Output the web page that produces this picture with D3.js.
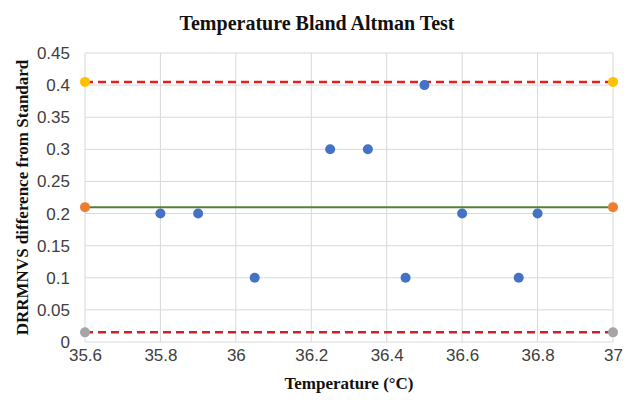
<!DOCTYPE html>
<html>
<head>
<meta charset="utf-8">
<script src="https://cdn.jsdelivr.net/npm/d3@7"></script>
<style>
  body { margin: 0; background: #fff; }
  svg { display: block; }
</style>
</head>
<body>
<div id="plotSect"></div>
<script>
// data
let tempValues = [35.8, 35.9, 36.05, 36.25, 36.35, 36.45, 36.5, 36.6, 36.75, 36.8];
let diffValues = [0.2, 0.2, 0.1, 0.3, 0.3, 0.1, 0.4, 0.2, 0.1, 0.2];
let lineX = [35.6, 37];
let meanDiff = 0.21;
let upperLimit = 0.405;
let lowerLimit = 0.015;
let xTicks = [35.6, 35.8, 36, 36.2, 36.4, 36.6, 36.8, 37];
let yTicks = [0, 0.05, 0.1, 0.15, 0.2, 0.25, 0.3, 0.35, 0.4, 0.45];

let SVGwidth = 630,
    SVGheight = 400,
    margin = {top: 53, right: 17, bottom: 58, left: 85},
    width = SVGwidth - margin.left - margin.right,
    height = SVGheight - margin.top - margin.bottom;

let tickFont = "'Liberation Sans', Arial, sans-serif";
let titleFont = "'Liberation Serif', 'Times New Roman', serif";

let svg = d3.select("#plotSect").append("svg")
    .attr("width", SVGwidth)
    .attr("height", SVGheight);

let g = svg.append("g")
    .attr("transform", "translate(" + margin.left + "," + margin.top + ")");

let xScale = d3.scaleLinear().domain([35.6, 37]).range([0, width]);
let yScale = d3.scaleLinear().domain([0, 0.45]).range([height, 0]);

// gridlines
g.selectAll(".hgrid").data(yTicks).enter().append("line")
    .attr("x1", 0).attr("x2", width)
    .attr("y1", d => yScale(d)).attr("y2", d => yScale(d))
    .style("stroke", "#d9d9d9").style("stroke-width", 1);

g.selectAll(".vgrid").data(xTicks).enter().append("line")
    .attr("y1", 0).attr("y2", height)
    .attr("x1", d => xScale(d)).attr("x2", d => xScale(d))
    .style("stroke", "#d9d9d9").style("stroke-width", 1);

// axes (labels only)
let xAxis = d3.axisBottom(xScale).tickValues(xTicks).tickSize(0).tickPadding(7)
    .tickFormat(d => String(+d.toFixed(1)));
let yAxis = d3.axisLeft(yScale).tickValues(yTicks).tickSize(0).tickPadding(15)
    .tickFormat(d => String(+d.toFixed(2)));

g.append("g").attr("transform", "translate(0," + height + ")").call(xAxis)
    .call(a => a.select(".domain").remove())
    .selectAll("text")
    .style("font-family", tickFont)
    .style("font-size", "17px").style("fill", "#404040");

g.append("g").call(yAxis)
    .call(a => a.select(".domain").remove())
    .selectAll("text")
    .style("font-family", tickFont)
    .style("font-size", "17px").style("fill", "#404040");

// limit and mean lines
let hLine = d3.line().x(d => xScale(d.x)).y(d => yScale(d.y));
let levels = [
    {v: upperLimit, stroke: "#e3211c", dash: "8,5", marker: "#ffc000", w: 2.5},
    {v: meanDiff, stroke: "#548235", dash: null, marker: "#ed7d31", w: 2},
    {v: lowerLimit, stroke: "#c8232b", dash: "8,5", marker: "#a5a5a5", w: 2.5}
];

levels.forEach(function(l) {
    let pts = lineX.map(x => ({x: x, y: l.v}));
    g.append("path")
        .datum(pts)
        .attr("d", hLine)
        .style("fill", "none")
        .style("stroke", l.stroke)
        .style("stroke-width", l.w)
        .style("stroke-dasharray", l.dash);
    g.selectAll(null).data(pts).enter().append("circle")
        .attr("r", 5)
        .attr("cx", d => xScale(d.x))
        .attr("cy", d => yScale(d.y))
        .style("fill", l.marker);
});

// scatter points
g.selectAll(".point").data(tempValues).enter().append("circle")
    .attr("class", "point")
    .attr("r", 5)
    .attr("cx", d => xScale(d))
    .attr("cy", (d, i) => yScale(diffValues[i]))
    .style("fill", "#4472c4");

// titles
svg.append("text")
    .attr("x", 317).attr("y", 30)
    .style("text-anchor", "middle")
    .style("font-family", titleFont)
    .style("font-weight", "bold").style("font-size", "20px")
    .style("fill", "#111")
    .text("Temperature Bland Altman Test");

svg.append("text")
    .attr("x", 349).attr("y", 389)
    .style("text-anchor", "middle")
    .style("font-family", titleFont)
    .style("font-weight", "bold").style("font-size", "17px")
    .style("fill", "#111")
    .text("Temperature (°C)");

svg.append("text")
    .attr("transform", "translate(28," + (margin.top + height / 2) + ") rotate(-90)")
    .style("text-anchor", "middle")
    .style("font-family", titleFont)
    .style("font-weight", "bold").style("font-size", "17px")
    .style("fill", "#111")
    .text("DRRMNVS difference from Standard");
</script>
</body>
</html>
